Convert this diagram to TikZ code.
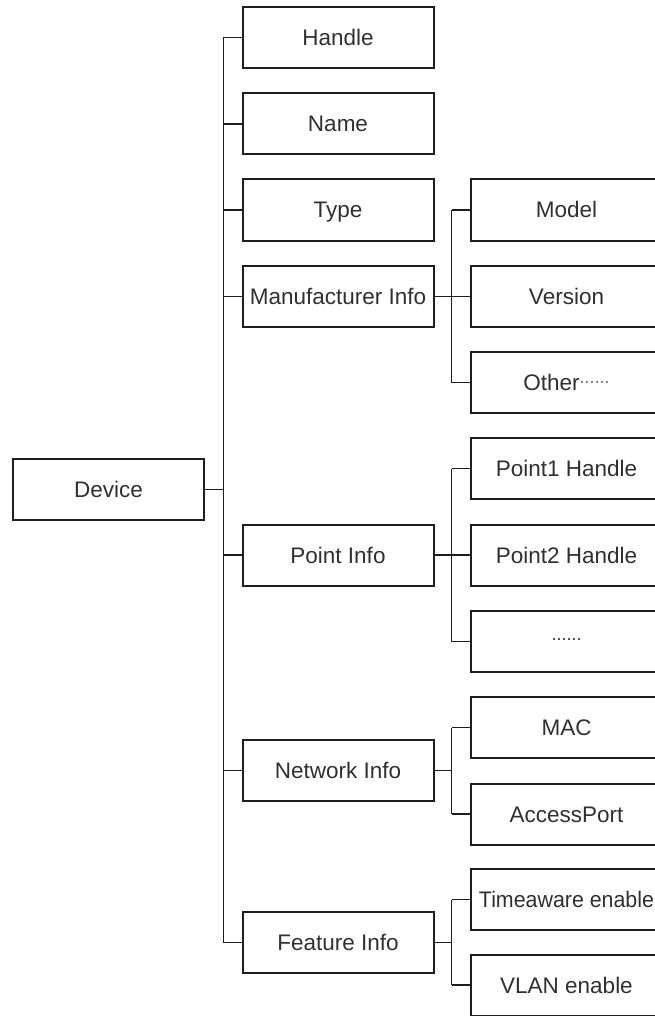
\documentclass[tikz,border=0pt]{standalone}
\usepackage{fontspec}
\setmainfont{Liberation Sans}
\definecolor{linec}{HTML}{1E1E1E}
\definecolor{txtc}{HTML}{303030}
\tikzset{
  box/.style={draw=linec, line width=2pt, minimum width=191pt, minimum height=61pt,
    inner sep=0pt, text height=16pt, text depth=0pt, text=txtc,
    font=\fontsize{22.5}{22.5}\selectfont},
  conn/.style={draw=linec, line width=1.8pt}
}
\begin{document}
\begin{tikzpicture}[x=1pt,y=-1pt]
\clip (0,0) rectangle (655,1016);
\fill[white] (0,0) rectangle (655,1016);
% root
\node[box] (device) at (108.5,489.5) {Device};
% level 1
\node[box] (handle) at (338,37.5) {Handle};
\node[box] (name) at (338,124) {Name};
\node[box] (type) at (338,210) {Type};
\node[box] (manuf) at (338,296.5) {Manufacturer Info};
\node[box] (point) at (338,555) {Point Info};
\node[box] (network) at (338,770.5) {Network Info};
\node[box] (feature) at (338,942.5) {Feature Info};
% level 2
\node[box] (model) at (566.5,210) {Model};
\node[box] (version) at (566.5,296.5) {Version};
\node[box] (other) at (566.5,382.5) {Other{\fontsize{15}{15}\selectfont\raisebox{4.5pt}{······}}};
\node[box] (p1) at (566.5,468.5) {Point1 Handle};
\node[box] (p2) at (566.5,555) {Point2 Handle};
\node[box] (pdots) at (566.5,641.5) {{\fontsize{18}{18}\selectfont\raisebox{9pt}{......}}};
\node[box] (mac) at (566.5,727.5) {MAC};
\node[box] (access) at (566.5,814) {AccessPort};
\node[box] (time) at (566.5,899.5) {\scalebox{0.95}[1]{Timeaware enable}};
\node[box] (vlan) at (566.5,985) {VLAN enable};
% trunk coordinates
\coordinate (tx) at (223.5,0);
\coordinate (sx) at (451.5,0);
% main trunk
\draw[conn] (handle.west -| tx) -- (feature.west -| tx);
\draw[conn] (device.east) -- (device.east -| tx);
\foreach \c in {handle,name,type,manuf,point,network,feature}
  \draw[conn] (\c.west) -- (\c.west -| tx);
% manufacturer
\draw[conn] (manuf.east) -- (manuf.east -| sx);
\draw[conn] (model.west -| sx) -- (other.west -| sx);
\foreach \c in {model,version,other} \draw[conn] (\c.west) -- (\c.west -| sx);
% point
\draw[conn] (point.east) -- (point.east -| sx);
\draw[conn] (p1.west -| sx) -- (pdots.west -| sx);
\foreach \c in {p1,p2,pdots} \draw[conn] (\c.west) -- (\c.west -| sx);
% network
\draw[conn] (network.east) -- (network.east -| sx);
\draw[conn] (mac.west -| sx) -- (access.west -| sx);
\foreach \c in {mac,access} \draw[conn] (\c.west) -- (\c.west -| sx);
% feature
\draw[conn] (feature.east) -- (feature.east -| sx);
\draw[conn] (time.west -| sx) -- (vlan.west -| sx);
\foreach \c in {time,vlan} \draw[conn] (\c.west) -- (\c.west -| sx);
\end{tikzpicture}
\end{document}
